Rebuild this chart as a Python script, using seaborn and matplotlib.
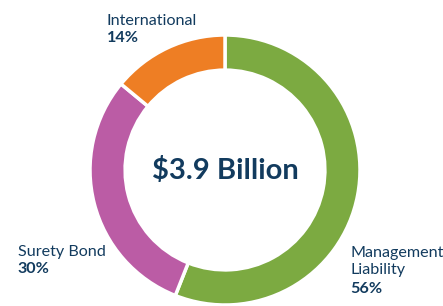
import matplotlib
matplotlib.use("Agg")
from matplotlib import pyplot as plt
import seaborn as sns

# data
segments = ["Management\nLiability", "Surety Bond", "International"]
shares = [56, 30, 14]
pct_labels = ["56%", "30%", "14%"]
total_label = "$3.9 Billion"

colors = ["#7CAA41", "#BB5CA5", "#EE7E24"]
navy = "#123B5E"

sns.set_theme(style="white")
plt.rcParams['font.family'] = ['Lato', 'DejaVu Sans']

W, H = 443, 306
fig = plt.figure(figsize=(W / 100, H / 100), dpi=100)
fig.patch.set_facecolor("white")

# donut axes: centre (225,170) px, radius 135 px
cx, cy, r = 225, 170, 135
ax = fig.add_axes([(cx - r) / W, (H - cy - r) / H, 2 * r / W, 2 * r / H])
ax.pie(shares, colors=colors, startangle=90, counterclock=False,
       wedgeprops=dict(width=0.26, edgecolor="white", linewidth=2.5))
ax.set_xlim(-1, 1)
ax.set_ylim(-1, 1)
ax.set_aspect("equal")
ax.axis("off")

ax.text(0, 0, total_label, ha="center", va="center", fontsize=21,
        fontweight="bold", color=navy)

# labels: (left x px, baseline y px of first line)
label_pos = [(350, 257), (18, 256), (107, 25)]
line_gap = 16.8
for name, pct, (lx, ly) in zip(segments, pct_labels, label_pos):
    lines = name.split("\n")
    for i, line in enumerate(lines):
        fig.text(lx / W, 1 - (ly + i * line_gap) / H, line, ha="left",
                 va="baseline", fontsize=11.6, color=navy)
    pb = ly + len(lines) * line_gap + (2.5 if len(lines) > 1 else 0)
    fig.text(lx / W, 1 - pb / H, pct, ha="left", va="baseline",
             fontsize=11.6, fontweight="bold", color=navy)

fig.savefig("out.png", dpi=100)
